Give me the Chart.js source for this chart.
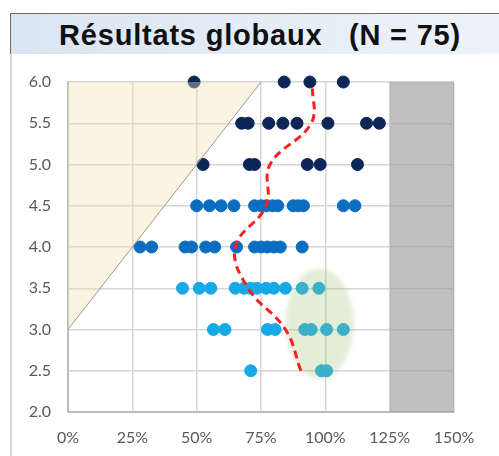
<!DOCTYPE html>
<html lang="fr">
<head>
    <meta charset="UTF-8">
    <title>Résultats globaux</title>
    <script src="https://cdn.jsdelivr.net/npm/chart.js"></script>
    <style>
        body {
            margin: 0;
            padding: 0;
            background: #ffffff;
        }

        #wrap {
            position: relative;
            width: 499px;
            height: 456px;
            overflow: hidden;
        }

        #frame {
            position: absolute;
            left: 10px;
            top: 53px;
            width: 489px;
            height: 403px;
            border-left: 2px solid #d4d4d4;
        }

        #title {
            position: absolute;
            left: 10px;
            top: 13px;
            width: 480px;
            height: 40px;
            padding-left: 9px;
            border-top: 1px solid #6b6b6b;
            border-left: 1px solid #6b6b6b;
            background: linear-gradient(to right, #d9e5f2, #e6eef7 60%, #edf2f8);
            font-family: "Liberation Sans", Arial, sans-serif;
            font-weight: bold;
            font-size: 29px;
            letter-spacing: 0.8px;
            line-height: 42px;
            text-align: center;
            white-space: pre;
            color: #111111;
            z-index: 2;
        }

        canvas {
            position: absolute;
            left: 0;
            top: 0;
        }
    </style>
</head>
<body>
<div id="wrap">
    <div id="frame"></div>
    <canvas id="results-chart" width="499" height="456"></canvas>
    <div id="title">Résultats globaux   (N = 75)</div>
</div>

<script>
    // Scores (%), one array per level
    const levels = [6.0, 5.5, 5.0, 4.5, 4.0, 3.5, 3.0, 2.5];
    const scores60 = [49, 84, 94, 107];
    const scores55 = [67.5, 70, 78, 83.5, 89, 101, 116, 121];
    const scores50 = [52.5, 70.5, 72.5, 93, 98, 112.5];
    const scores45 = [50, 55, 59.5, 64.5, 72.5, 75, 77, 79.5, 81.5, 87.5, 89.5, 91.5, 107, 111.5];
    const scores40 = [28, 32.5, 45.5, 48, 53.5, 57, 65.5, 72.5, 75, 77.5, 80, 82.5, 91];
    const scores35 = [44.5, 51, 55.5, 65, 68.5, 71, 73.5, 77, 80, 84.5, 91, 97.5];
    const scores30 = [56.5, 61, 77.5, 80.5, 92, 94.5, 100.5, 107];
    const scores25 = [71, 98.5, 100.5];

    // Red dashed trend line
    const trendX = [90.5, 84.5, 70, 65, 77, 78.5, 94.5, 95];
    const trendY = [2.5, 3.0, 3.5, 4.0, 4.5, 5.0, 5.5, 5.95];

    // Beige zone (above the diagonal) and grey band
    const zoneX = [0, 75];
    const zoneY = [3, 6];
    const bandX = [125, 150];
    const bandY = [2, 2];

    // Green ellipse: centre and half-axes
    const ellipseCenter = [97.8, 3.07];
    const ellipseRadius = [13.2, 0.67];

    const xTicks = [0, 25, 50, 75, 100, 125, 150];

    const navy = '#0c2657';
    const mid = '#0b6dbf';
    const light = '#17a9e6';

    function toPoints(xs, y) {
        return xs.map(x => ({ x: x, y: y }));
    }

    function pairs(xs, ys) {
        return xs.map((x, i) => ({ x: x, y: ys[i] }));
    }

    const navyPoints = [].concat(toPoints(scores60, levels[0]), toPoints(scores55, levels[1]), toPoints(scores50, levels[2]));
    const midPoints = [].concat(toPoints(scores45, levels[3]), toPoints(scores40, levels[4]));
    const lightPoints = [].concat(toPoints(scores35, levels[5]), toPoints(scores30, levels[6]), toPoints(scores25, levels[7]));

    // draws the green ellipse just before the trend line
    const ellipsePlugin = {
        id: 'ellipse',
        beforeDatasetDraw(chart, args) {
            if (args.index !== 0) return;
            const x = chart.scales.x;
            const y = chart.scales.y;
            const cx = x.getPixelForValue(ellipseCenter[0]);
            const cy = y.getPixelForValue(ellipseCenter[1]);
            const rx = Math.abs(x.getPixelForValue(ellipseCenter[0] + ellipseRadius[0]) - cx);
            const ry = Math.abs(y.getPixelForValue(ellipseCenter[1] + ellipseRadius[1]) - cy);
            const ctx = chart.ctx;
            ctx.save();
            ctx.filter = 'blur(2px)';
            ctx.fillStyle = 'rgba(155, 195, 120, 0.28)';
            ctx.beginPath();
            ctx.ellipse(cx, cy, rx, ry, 0, 0, Math.PI * 2);
            ctx.fill();
            ctx.restore();
        }
    };

    const ctx = document.getElementById('results-chart').getContext('2d');
    new Chart(ctx, {
        type: 'scatter',
        data: {
            datasets: [
                {
                    type: 'line',
                    label: 'Tendance',
                    data: pairs(trendX, trendY),
                    borderColor: '#ff1e1e',
                    borderWidth: 3,
                    borderDash: [8, 5],
                    tension: 0.4,
                    pointRadius: 0,
                    fill: false,
                    order: 0
                },
                {
                    type: 'line',
                    label: 'Zone',
                    data: pairs(zoneX, zoneY),
                    borderColor: '#9d978d',
                    borderWidth: 1,
                    backgroundColor: 'rgba(248, 226, 180, 0.38)',
                    pointRadius: 0,
                    fill: 'end',
                    order: 1
                },
                {
                    type: 'line',
                    label: 'Bande',
                    data: pairs(bandX, bandY),
                    borderWidth: 0,
                    backgroundColor: 'rgba(150, 150, 150, 0.6)',
                    pointRadius: 0,
                    fill: 'end',
                    order: 2
                },
                {
                    label: 'Niveaux 5.0 - 6.0',
                    data: navyPoints,
                    backgroundColor: navy,
                    borderColor: navy,
                    pointRadius: 6,
                    clip: false,
                    order: 3
                },
                {
                    label: 'Niveaux 4.0 - 4.5',
                    data: midPoints,
                    backgroundColor: mid,
                    borderColor: mid,
                    pointRadius: 6,
                    clip: false,
                    order: 4
                },
                {
                    label: 'Niveaux 2.5 - 3.5',
                    data: lightPoints,
                    backgroundColor: light,
                    borderColor: light,
                    pointRadius: 6,
                    clip: false,
                    order: 5
                }
            ]
        },
        options: {
            responsive: false,
            animation: false,
            layout: {
                padding: { top: 82, right: 45, bottom: 0, left: 0 }
            },
            plugins: {
                legend: { display: false },
                tooltip: { enabled: false }
            },
            scales: {
                x: {
                    type: 'linear',
                    min: 0,
                    max: 150,
                    afterBuildTicks: (scale) => {
                        scale.ticks = xTicks.map(v => ({ value: v }));
                    },
                    afterFit: (scale) => { scale.height = 44; },
                    grid: { color: '#d6d6d6', lineWidth: 1.5, drawTicks: false },
                    border: { color: '#bdbdbd', width: 2 },
                    ticks: {
                        padding: 16,
                        color: '#595959',
                        font: { family: 'Lato', size: 16 },
                        callback: (v) => v + '%'
                    }
                },
                y: {
                    min: 2,
                    max: 6,
                    afterFit: (scale) => { scale.width = 68; },
                    grid: { color: '#d6d6d6', lineWidth: 1.5, drawTicks: false },
                    border: { color: '#bdbdbd', width: 2 },
                    ticks: {
                        stepSize: 0.5,
                        padding: 17,
                        color: '#595959',
                        font: { family: 'Lato', size: 16 },
                        callback: (v) => v.toFixed(1)
                    }
                }
            }
        },
        plugins: [ellipsePlugin]
    });
</script>
</body>
</html>
